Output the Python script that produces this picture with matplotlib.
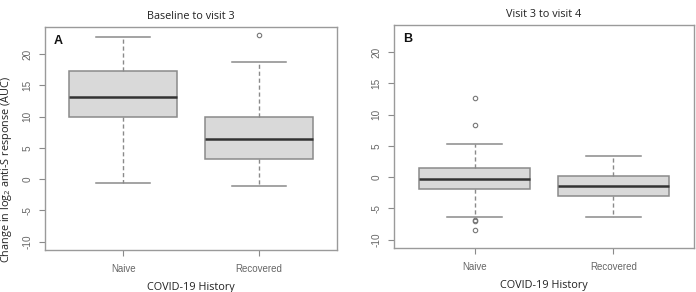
import matplotlib
matplotlib.use("Agg")
import matplotlib.pyplot as plt

plt.rcParams['mathtext.fontset'] = 'custom'
plt.rcParams['mathtext.rm'] = 'Open Sans'
plt.rcParams['mathtext.it'] = 'Open Sans:italic'
plt.rcParams['mathtext.bf'] = 'Open Sans:bold'

# ---- data ----
groups = ["Naive", "Recovered"]

# Panel A: Baseline to visit 3
a_whislo = [-0.6, -1.1]
a_q1 = [9.9, 3.3]
a_med = [13.2, 6.4]
a_q3 = [17.25, 10.0]
a_whishi = [22.7, 18.75]
a_fliers = [[], [23.0]]

# Panel B: Visit 3 to visit 4
b_whislo = [-6.3, -6.4]
b_q1 = [-1.9, -3.0]
b_med = [-0.37, -1.44]
b_q3 = [1.4, 0.2]
b_whishi = [5.3, 3.46]
b_fliers = [[12.7, 8.4, -6.9, -7.0, -8.45], []]

yticks = [-10, -5, 0, 5, 10, 15, 20]
titles = ["Baseline to visit 3", "Visit 3 to visit 4"]
letters = ["A", "B"]

fig = plt.figure(figsize=(6.96, 2.92), dpi=100)
axA = fig.add_axes([45/696, 1-250/292, (337-45)/696, (250-27)/292])
axB = fig.add_axes([394/696, 1-248/292, (694-394)/696, (248-25)/292])

TICKFONT = ['Liberation Sans Narrow', 'Liberation Sans', 'DejaVu Sans']
TEXTFONT = ['Open Sans', 'DejaVu Sans']
edge = '#8a8a8a'

def draw(ax, wl, q1, med, q3, wh, fl, title, letter, ylabel):
    stats = []
    for i in range(len(groups)):
        stats.append(dict(whislo=wl[i], q1=q1[i], med=med[i], q3=q3[i],
                          whishi=wh[i], fliers=fl[i], label=groups[i]))
    ax.bxp(stats, positions=[1, 2], widths=0.8, patch_artist=True,
           showfliers=True,
           boxprops=dict(facecolor='#d9d9d9', edgecolor=edge, linewidth=1.1),
           medianprops=dict(color='#333333', linewidth=1.8),
           whiskerprops=dict(color=edge, linestyle=(0, (3, 2)), linewidth=1.0),
           capprops=dict(color=edge, linewidth=1.1),
           capwidths=0.4,
           flierprops=dict(marker='o', markersize=3.2, markerfacecolor='none',
                           markeredgecolor='#777777', markeredgewidth=0.8))
    ax.set_xlim(0.42, 2.58)
    ax.set_ylim(-11.32, 24.32)
    ax.set_yticks(yticks)
    ax.set_yticklabels([str(t) for t in yticks], rotation=90, va='center',
                       family=TICKFONT, fontsize=7.2, color='#666666')
    ax.set_xticks([1, 2])
    ax.set_xticklabels(groups, family=TICKFONT, fontsize=7.0, color='#666666')
    ax.tick_params(axis='both', color=edge, length=4, width=0.8)
    ax.tick_params(axis='x', pad=6)
    ax.tick_params(axis='y', pad=5)
    for s in ax.spines.values():
        s.set_color('#9a9a9a')
        s.set_linewidth(1.0)
    ax.set_title(title, family=TEXTFONT, fontsize=7.8, color='#222222', pad=6)
    ax.set_xlabel("COVID-19 History", family=TEXTFONT, fontsize=7.8,
                  color='#222222', labelpad=6)
    if ylabel:
        ax.set_ylabel("Change in log$_2$ anti-S response (AUC)", family=TEXTFONT,
                      fontsize=7.8, color='#222222')
        ax.yaxis.set_label_coords(-0.105, 0.36)
    ax.text(0.03, 0.965, letter, transform=ax.transAxes, ha='left', va='top',
            fontsize=9, fontweight='bold', family=['Liberation Sans', 'DejaVu Sans'],
            color='#111111')

draw(axA, a_whislo, a_q1, a_med, a_q3, a_whishi, a_fliers, titles[0], letters[0], True)
draw(axB, b_whislo, b_q1, b_med, b_q3, b_whishi, b_fliers, titles[1], letters[1], False)

fig.savefig("out.png", dpi=100)
